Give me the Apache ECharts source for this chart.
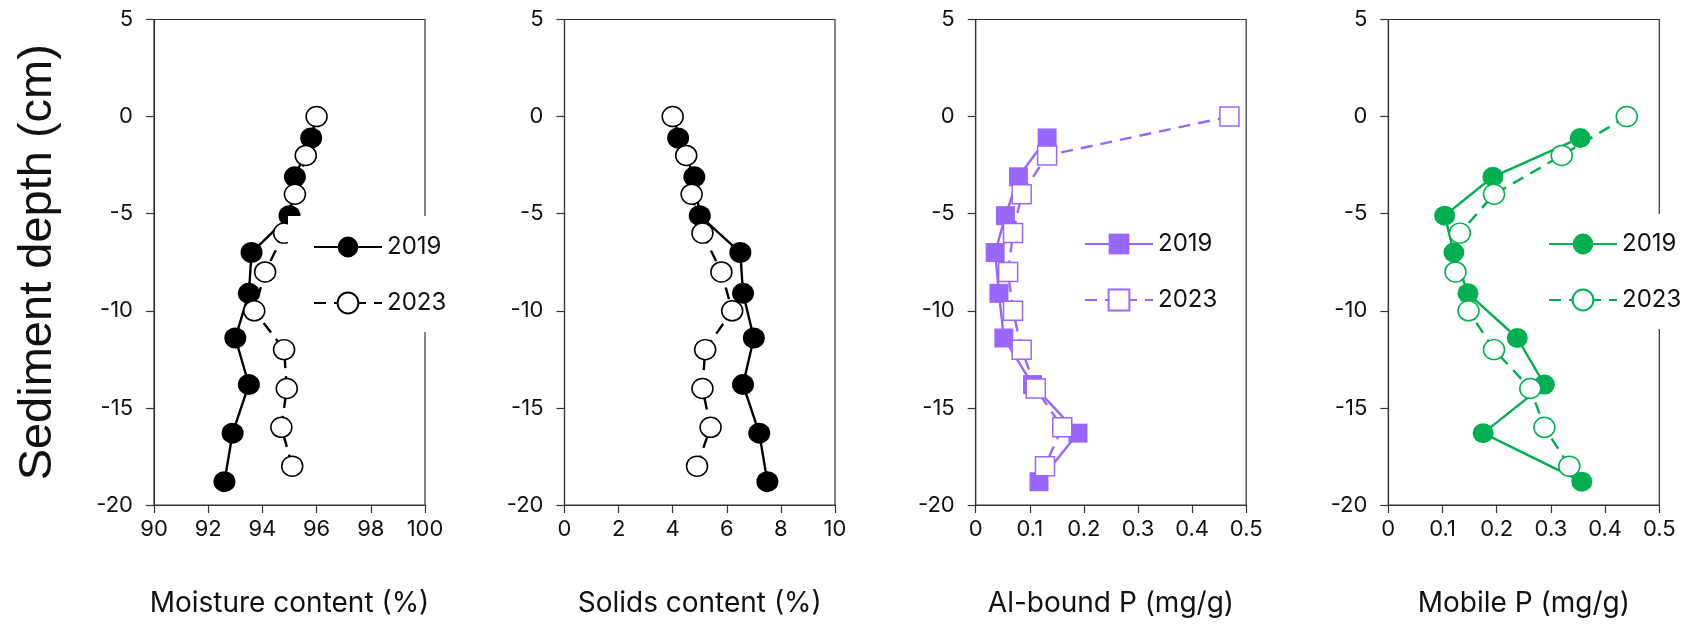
<!DOCTYPE html>
<html>
<head>
<meta charset="utf-8">
<script src="https://cdn.jsdelivr.net/npm/echarts@6/dist/echarts.min.js"></script>
<style>
  html, body { margin: 0; padding: 0; background: #fff; }
  #chart { width: 1694px; height: 628px; }
</style>
</head>
<body>
<div id="chart"></div>
<script>
// ---- Data ----
const depth2019 = [-1.1, -3.1, -5.1, -7.0, -9.1, -11.4, -13.8, -16.3, -18.8];
const depth2023 = [0, -2, -4, -6, -8, -10, -12, -14, -16, -18];

const moisture2019 = [95.8, 95.2, 95.0, 93.6, 93.5, 93.0, 93.5, 92.9, 92.6];
const moisture2023 = [96.0, 95.6, 95.2, 94.8, 94.1, 93.7, 94.8, 94.9, 94.7, 95.1];

const solids2019 = [4.2, 4.8, 5.0, 6.5, 6.6, 7.0, 6.6, 7.2, 7.5];
const solids2023 = [4.0, 4.5, 4.7, 5.1, 5.8, 6.2, 5.2, 5.1, 5.4, 4.9];

const alP2019 = [0.132, 0.079, 0.055, 0.036, 0.043, 0.052, 0.105, 0.189, 0.117];
const alP2023 = [0.469, 0.132, 0.085, 0.069, 0.060, 0.069, 0.085, 0.111, 0.160, 0.128];

const mobileP2019 = [0.354, 0.193, 0.104, 0.121, 0.147, 0.238, 0.288, 0.175, 0.357];
const mobileP2023 = [0.440, 0.320, 0.195, 0.132, 0.124, 0.148, 0.195, 0.262, 0.288, 0.334];

const xTitles = ['Moisture content (%)', 'Solids content (%)', 'Al-bound P (mg/g)', 'Mobile P (mg/g)'];
const yTitle = 'Sediment depth (cm)';
const yearLabels = ['2019', '2023'];

// ---- Layout / style ----
const FONT = 'Inter, "Liberation Sans", Arial, sans-serif';
const TITLE_FONT = '"Liberation Sans", Arial, sans-serif';
const panels = [
  { left: 154,   width: 271,   xmin: 90, xmax: 100, xint: 2,   color: '#000000', sym: 'circle', s1: [22, 21], s2: [21, 20],
    d1: moisture2019, d2: moisture2023, legend: { left: 288, top: 216, padding: [19, 12, 17, 25], bg: '#fff' } },
  { left: 564.5, width: 270.5, xmin: 0,  xmax: 10,  xint: 2,   color: '#000000', sym: 'circle', s1: [22, 21], s2: [21, 20],
    d1: solids2019, d2: solids2023, legend: null },
  { left: 975.7, width: 270.5, xmin: 0,  xmax: 0.5, xint: 0.1, color: '#9966FF', sym: 'rect',   s1: [19, 19], s2: [19, 19],
    d1: alP2019, d2: alP2023, legend: { left: 1084, top: 232, padding: 0, bg: 'transparent' } },
  { left: 1388.3,width: 271,   xmin: 0,  xmax: 0.5, xint: 0.1, color: '#00B050', sym: 'circle', s1: [21, 20], s2: [21, 20],
    d1: mobileP2019, d2: mobileP2023, legend: { left: 1522, top: 214, padding: [18, 12, 17, 26], bg: '#fff' } }
];
const prefixes = ['m', 's', 'a', 'p'];

const grid = [], xAxis = [], yAxis = [], series = [], legend = [];
panels.forEach((p, i) => {
  grid.push({ left: p.left, width: p.width, top: 19.5, height: 485.5,
              show: true, borderColor: '#333', borderWidth: 1.2, backgroundColor: 'transparent' });
  xAxis.push({
    type: 'value', gridIndex: i, min: p.xmin, max: p.xmax, interval: p.xint,
    name: xTitles[i], nameLocation: 'middle', nameGap: 85,
    nameTextStyle: { fontFamily: FONT, fontSize: 28, color: '#111' },
    axisLine: { show: true, onZero: false, lineStyle: { color: '#333', width: 1.2 } },
    axisTick: { show: true, inside: false, length: 8, lineStyle: { color: '#333', width: 1.2 } },
    axisLabel: { margin: 13, fontFamily: FONT, fontSize: 22, color: '#111', showMinLabel: true, showMaxLabel: true, hideOverlap: false },
    splitLine: { show: false }
  });
  yAxis.push({
    type: 'value', gridIndex: i, min: -20, max: 5, interval: 5,
    name: i === 0 ? yTitle : '', nameLocation: 'middle', nameGap: 92, nameRotate: 90,
    nameTextStyle: { fontFamily: TITLE_FONT, fontSize: 47, color: '#111' },
    axisLine: { show: true, onZero: false, lineStyle: { color: '#333', width: 1.2 } },
    axisTick: { show: true, inside: false, length: 8, lineStyle: { color: '#333', width: 1.2 } },
    axisLabel: { margin: 21, fontFamily: FONT, fontSize: 22, color: '#111', showMinLabel: true, showMaxLabel: true },
    splitLine: { show: false }
  });
  const n1 = prefixes[i] + yearLabels[0];
  const n2 = prefixes[i] + yearLabels[1];
  series.push({
    name: n1, type: 'line', xAxisIndex: i, yAxisIndex: i,
    data: p.d1.map((v, k) => [v, depth2019[k]]),
    symbol: p.sym, symbolSize: p.s1, showSymbol: true,
    lineStyle: { color: p.color, width: 2.4, type: 'solid' },
    itemStyle: { color: p.color, borderColor: p.color, borderWidth: 0 },
    emphasis: { disabled: true }, z: 2
  });
  series.push({
    name: n2, type: 'line', xAxisIndex: i, yAxisIndex: i,
    data: p.d2.map((v, k) => [v, depth2023[k]]),
    symbol: p.sym, symbolSize: p.s2, showSymbol: true,
    lineStyle: { color: p.color, width: 2.4, type: [12, 8] },
    itemStyle: { color: '#ffffff', borderColor: p.color, borderWidth: 1.5 },
    emphasis: { disabled: true }, z: 3
  });
  if (p.legend) {
    legend.push({
      data: [n1, n2], orient: 'vertical',
      left: p.legend.left, top: p.legend.top, padding: p.legend.padding,
      backgroundColor: p.legend.bg,
      itemWidth: 68, itemHeight: 26, itemGap: 32,
      formatter: name => name.slice(1),
      textStyle: { fontFamily: FONT, fontSize: 24, color: '#111' },
      selectedMode: false, z: 10
    });
  }
});

const chart = echarts.init(document.getElementById('chart'), null, { renderer: 'canvas' });
chart.setOption({
  animation: false,
  backgroundColor: '#ffffff',
  grid, xAxis, yAxis, series, legend
});
</script>
</body>
</html>
